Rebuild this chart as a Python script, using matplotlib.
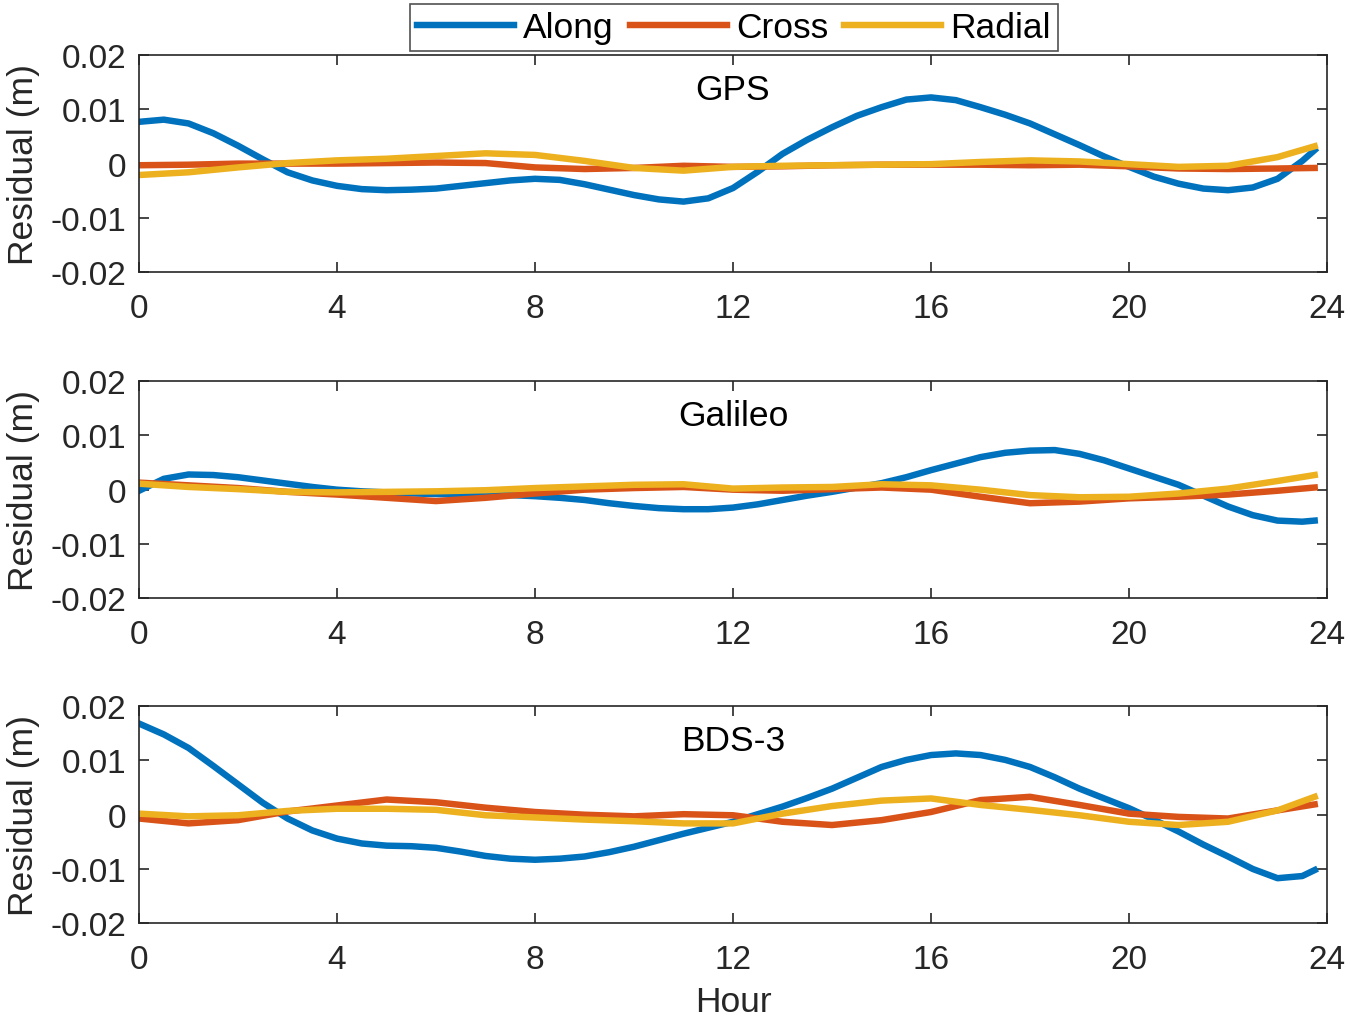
import numpy as np
import matplotlib.pyplot as plt

plt.rcParams['font.family'] = ['Liberation Sans', 'DejaVu Sans']
plt.rcParams['axes.unicode_minus'] = False

# hours of the day (half-hour steps for the along-track curves, hourly for the others)
hours_fine = [0, 0.5, 1, 1.5, 2, 2.5, 3, 3.5, 4, 4.5, 5, 5.5, 6, 6.5, 7, 7.5, 8, 8.5, 9, 9.5,
              10, 10.5, 11, 11.5, 12, 12.5, 13, 13.5, 14, 14.5, 15, 15.5, 16, 16.5, 17, 17.5,
              18, 18.5, 19, 19.5, 20, 20.5, 21, 21.5, 22, 22.5, 23, 23.5, 23.75]
hours = [0, 1, 2, 3, 4, 5, 6, 7, 8, 9, 10, 11, 12, 13, 14, 15, 16, 17, 18, 19, 20, 21, 22, 23, 23.75]

# GPS residuals (m)
gps_along = [0.0077, 0.0081, 0.0074, 0.0056, 0.0033, 0.0008, -0.0016, -0.0031, -0.0041, -0.0047,
             -0.0049, -0.0048, -0.0046, -0.0041, -0.0036, -0.0031, -0.0028, -0.0030, -0.0038, -0.0048,
             -0.0058, -0.0066, -0.0070, -0.0064, -0.0045, -0.0015, 0.0018, 0.0044, 0.0067, 0.0088,
             0.0104, 0.0118, 0.0122, 0.0117, 0.0104, 0.0090, 0.0074, 0.0054, 0.0034, 0.0013,
             -0.0006, -0.0024, -0.0037, -0.0046, -0.0049, -0.0044, -0.0028, 0.0005, 0.0025]
gps_cross = [-0.0003, -0.0002, 0.0000, 0.0000, 0.0000, 0.0001, 0.0002, 0.0001, -0.0007, -0.0010,
             -0.0008, -0.0004, -0.0006, -0.0005, -0.0003, -0.0002, -0.0002, -0.0002, -0.0003, -0.0002,
             -0.0005, -0.0009, -0.0010, -0.0009, -0.0008]
gps_radial = [-0.0021, -0.0016, -0.0007, 0.0001, 0.0006, 0.0009, 0.0014, 0.0019, 0.0016, 0.0005,
              -0.0008, -0.0013, -0.0006, -0.0004, -0.0003, -0.0002, -0.0001, 0.0003, 0.0006, 0.0004,
              -0.0001, -0.0006, -0.0004, 0.0012, 0.0032]

# Galileo residuals (m)
gal_along = [-0.0002, 0.0020, 0.0028, 0.0027, 0.0023, 0.0017, 0.0011, 0.0005, 0.0000, -0.0003,
             -0.0005, -0.0007, -0.0008, -0.0009, -0.0009, -0.0010, -0.0012, -0.0015, -0.0019, -0.0025,
             -0.0030, -0.0034, -0.0036, -0.0036, -0.0033, -0.0027, -0.0019, -0.0011, -0.0004, 0.0004,
             0.0012, 0.0023, 0.0036, 0.0048, 0.0060, 0.0068, 0.0072, 0.0073, 0.0066, 0.0054,
             0.0039, 0.0024, 0.0009, -0.0011, -0.0031, -0.0047, -0.0057, -0.0059, -0.0057]
gal_cross = [0.0013, 0.0008, 0.0003, -0.0004, -0.0009, -0.0015, -0.0021, -0.0015, -0.0007, 0.0000,
             0.0003, 0.0005, 0.0000, -0.0002, 0.0001, 0.0004, 0.0000, -0.0013, -0.0025, -0.0022,
             -0.0016, -0.0013, -0.0009, -0.0002, 0.0004]
gal_radial = [0.0011, 0.0005, 0.0001, -0.0004, -0.0005, -0.0004, -0.0003, -0.0001, 0.0003, 0.0006,
              0.0009, 0.0010, 0.0002, 0.0004, 0.0005, 0.0010, 0.0008, 0.0000, -0.0010, -0.0014,
              -0.0013, -0.0007, 0.0002, 0.0016, 0.0027]

# BDS-3 residuals (m)
bds_along = [0.0168, 0.0148, 0.0123, 0.0090, 0.0056, 0.0022, -0.0007, -0.0029, -0.0044, -0.0053,
             -0.0057, -0.0058, -0.0061, -0.0068, -0.0076, -0.0081, -0.0083, -0.0081, -0.0077, -0.0069,
             -0.0059, -0.0047, -0.0035, -0.0024, -0.0013, 0.0001, 0.0015, 0.0031, 0.0048, 0.0068,
             0.0088, 0.0101, 0.0110, 0.0113, 0.0110, 0.0101, 0.0088, 0.0069, 0.0048, 0.0030,
             0.0012, -0.0009, -0.0031, -0.0055, -0.0077, -0.0100, -0.0117, -0.0113, -0.0102]
bds_cross = [-0.0007, -0.0016, -0.0010, 0.0006, 0.0017, 0.0028, 0.0023, 0.0013, 0.0005, 0.0000,
             -0.0003, 0.0001, -0.0001, -0.0013, -0.0019, -0.0010, 0.0005, 0.0027, 0.0033, 0.0018,
             0.0002, -0.0004, -0.0007, 0.0008, 0.0019]
bds_radial = [0.0002, -0.0003, -0.0001, 0.0007, 0.0011, 0.0011, 0.0009, -0.0001, -0.0005, -0.0009,
              -0.0012, -0.0016, -0.0016, 0.0002, 0.0016, 0.0026, 0.0030, 0.0018, 0.0009, -0.0001,
              -0.0013, -0.0019, -0.0013, 0.0008, 0.0033]

systems = ['GPS', 'Galileo', 'BDS-3']
series = [(gps_along, gps_cross, gps_radial),
          (gal_along, gal_cross, gal_radial),
          (bds_along, bds_cross, bds_radial)]
names = ['Along', 'Cross', 'Radial']
colors = ['#0072BD', '#D95319', '#EDB120']

fig = plt.figure(figsize=(9, 6.793), dpi=150)
bottoms = [0.732, 0.412, 0.093]
h = 0.213

for k in range(3):
    ax = fig.add_axes([0.103, bottoms[k], 0.880, h])
    for i, (vals, c, n) in enumerate(zip(series[k], colors, names)):
        xs = hours_fine if i == 0 else hours
        ax.plot(xs, vals, color=c, lw=3.1, label=n, solid_joinstyle='round')
    ax.set_xlim(0, 24)
    ax.set_ylim(-0.02, 0.02)
    ax.set_xticks(np.arange(0, 25, 4))
    ax.set_yticks([-0.02, -0.01, 0, 0.01, 0.02])
    ax.set_yticklabels(['-0.02', '-0.01', '0', '0.01', '0.02'])
    ax.tick_params(direction='in', top=True, right=True, labelsize=16,
                   length=5, width=0.8, colors='#262626')
    ax.tick_params(axis='x', pad=10)
    ax.tick_params(axis='y', pad=6)
    for sp in ax.spines.values():
        sp.set_color('#262626')
        sp.set_linewidth(0.8)
    ax.set_ylabel('Residual (m)', fontsize=17, color='#262626', labelpad=5)
    ax.text(0.5, 0.84, systems[k], transform=ax.transAxes, ha='center', va='center',
            fontsize=17, color='black')
    if k == 0:
        handles, labels = ax.get_legend_handles_labels()
    if k == 2:
        ax.set_xlabel('Hour', fontsize=17, color='#262626', labelpad=5)

leg = fig.legend(handles, labels, loc='upper center', bbox_to_anchor=(0.5435, 0.995), ncol=3,
                 fontsize=17, frameon=True, fancybox=False, edgecolor='#262626',
                 handlelength=2.75, handletextpad=0.25, columnspacing=0.45, borderpad=0.2,
                 borderaxespad=0)
leg.get_frame().set_linewidth(0.8)

plt.savefig('out.png', dpi=150)
